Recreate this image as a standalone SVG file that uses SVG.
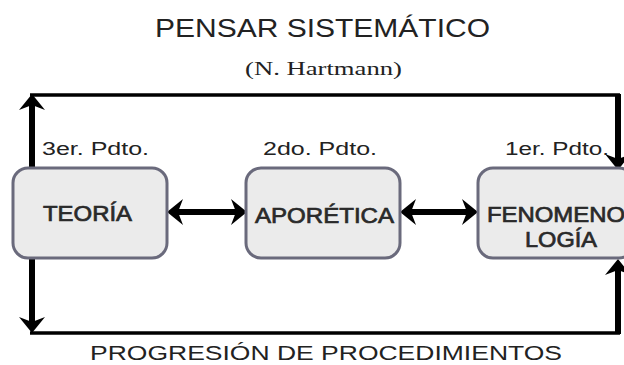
<svg xmlns="http://www.w3.org/2000/svg" width="624" height="365" viewBox="0 0 624 365">
<style>
.box{fill:#ebebeb;stroke:#6a6a7c;stroke-width:3}
.lbl{font-family:"Liberation Sans",Arial,sans-serif;font-size:22px;fill:#2a2a2a;stroke:#2a2a2a;stroke-width:0.7}
.pd{font-family:"Liberation Sans",Arial,sans-serif;font-size:18px;fill:#222}
.thick{stroke:#000;stroke-width:6;fill:none}
.thin{stroke:#000;stroke-width:3.5;fill:none}
</style>
<defs>
<marker id="ah" viewBox="-18 -14 19 28" refX="-10" refY="0" markerUnits="userSpaceOnUse" markerWidth="19" markerHeight="28" orient="auto-start-reverse">
<path d="M0,0 L-16,-13 L-11,0 L-16,13 Z" fill="#000"/>
</marker>
</defs>
<rect width="624" height="365" fill="#fff"/>
<text x="322.5" y="37" text-anchor="middle" font-family="Liberation Sans,Arial,sans-serif" font-size="26" fill="#222" textLength="335" lengthAdjust="spacingAndGlyphs">PENSAR SISTEMÁTICO</text>
<text x="323.5" y="75" text-anchor="middle" font-family="Liberation Serif,Times New Roman,serif" font-size="19" fill="#222" textLength="157" lengthAdjust="spacingAndGlyphs">(N. Hartmann)</text>
<g id="connectors">
<line class="thin" x1="30" y1="95" x2="620" y2="95"/>
<line class="thin" x1="30" y1="333" x2="620" y2="333"/>
<line class="thick" x1="32" y1="168" x2="32" y2="104" marker-end="url(#ah)"/>
<line class="thick" x1="32" y1="258" x2="32" y2="323" marker-end="url(#ah)"/>
<line class="thick" x1="618" y1="94" x2="618" y2="160" marker-end="url(#ah)"/>
<line class="thick" x1="618" y1="334" x2="618" y2="269" marker-end="url(#ah)"/>
<line class="thick" x1="177" y1="212" x2="237" y2="212" marker-start="url(#ah)" marker-end="url(#ah)"/>
<line class="thick" x1="410" y1="212" x2="468" y2="212" marker-start="url(#ah)" marker-end="url(#ah)"/>
</g>
<g id="teoria">
<rect class="box" x="13" y="168" width="154" height="90" rx="15"/>
<text class="pd" x="42" y="155" textLength="107" lengthAdjust="spacingAndGlyphs">3er. Pdto.</text>
<text class="lbl" x="43" y="221" textLength="89" lengthAdjust="spacingAndGlyphs">TEORÍA</text>
</g>
<g id="aporetica">
<rect class="box" x="246" y="168" width="154" height="90" rx="15"/>
<text class="pd" x="263" y="155" textLength="114" lengthAdjust="spacingAndGlyphs">2do. Pdto.</text>
<text class="lbl" x="255" y="223" textLength="139" lengthAdjust="spacingAndGlyphs">APORÉTICA</text>
</g>
<g id="fenomenologia">
<rect class="box" x="478" y="168" width="156" height="90" rx="15"/>
<text class="pd" x="505" y="155" textLength="104" lengthAdjust="spacingAndGlyphs">1er. Pdto.</text>
<text class="lbl" x="487" y="222" textLength="138" lengthAdjust="spacingAndGlyphs">FENOMENO</text>
<text class="lbl" x="525" y="247" textLength="72" lengthAdjust="spacingAndGlyphs">LOGÍA</text>
</g>
<text x="90" y="360" font-family="Liberation Sans,Arial,sans-serif" font-size="20" fill="#222" textLength="472" lengthAdjust="spacingAndGlyphs">PROGRESIÓN DE PROCEDIMIENTOS</text>
</svg>
